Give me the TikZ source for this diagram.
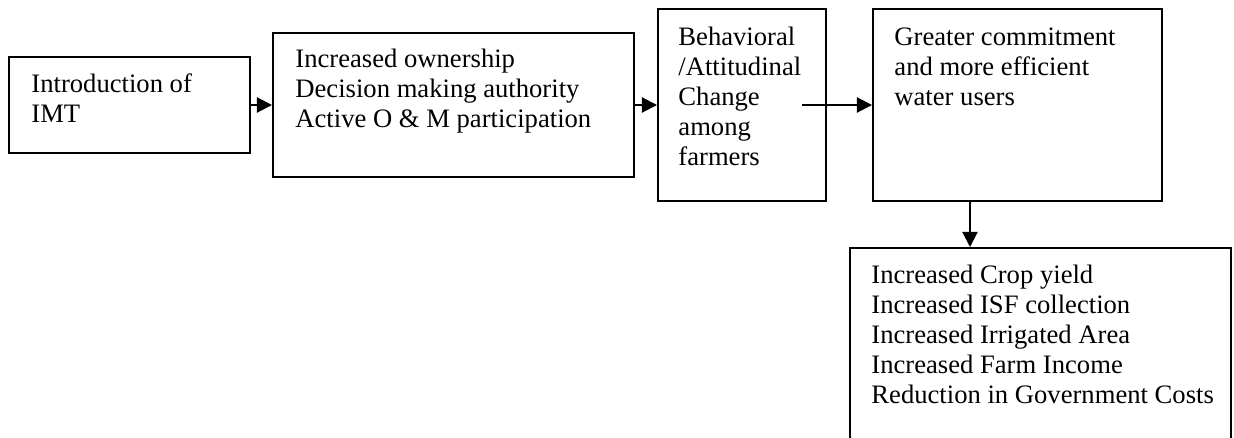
\documentclass[tikz,border=0pt]{standalone}
\usepackage{fontspec}
\setmainfont{Liberation Serif}
\usetikzlibrary{arrows.meta}
\usetikzlibrary{positioning,fit}
\tikzset{
    box/.style={
        draw,
        line width=0.9pt,
        inner sep=0pt
    },
    txt/.style={
        anchor=north west,
        align=left,
        inner sep=0pt,
        font=\fontsize{12.25}{13.8}\selectfont
    },
    flow/.style={
        -{Triangle[length=7pt, width=7pt]},
        line width=0.9pt
    }
}

\begin{document}
\begin{tikzpicture}[x=0.46pt, y=-0.46pt]
    \path[use as bounding box, clip] (0,0) rectangle (1234,438);
    % Boxes
    \node[box, fit={(9,57) (250,153)}] (intro) {};
    \node[box, fit={(273,33) (634,177)}] (own) {};
    \node[box, fit={(658,9) (826,201)}] (behav) {};
    \node[box, fit={(873,9) (1162,201)}] (commit) {};
    \node[box, fit={(850,248) (1231,470)}] (gain) {};

    % Texts
    \node[txt] (introtxt) at (31,73) {Introduction of\\IMT};
    \node[txt] (owntxt) at (295,49) {Increased ownership\\Decision making authority\\Active O \& M participation};
    \node[txt] (behavtxt) at (678,27) {Behavioral\\/Attitudinal\\Change\\among\\farmers};
    \node[txt] (committxt) at (894,27) {Greater commitment\\and more efficient\\water users};
    \node[txt] (gaintxt) at (871,265) {Increased Crop yield\\Increased ISF collection\\Increased Irrigated Area\\Increased Farm Income\\Reduction in Government Costs};

    % Arrows
    \coordinate (c3) at (802,105);
    \coordinate (c4) at (970,0);
    \draw[flow] (intro) -- (own);
    \draw[flow] (own) -- (behav);
    \draw[flow] (c3) -- (c3 -| commit.west);
    \draw[flow] (commit.south -| c4) -- (gain.north -| c4);

\end{tikzpicture}
\end{document}
